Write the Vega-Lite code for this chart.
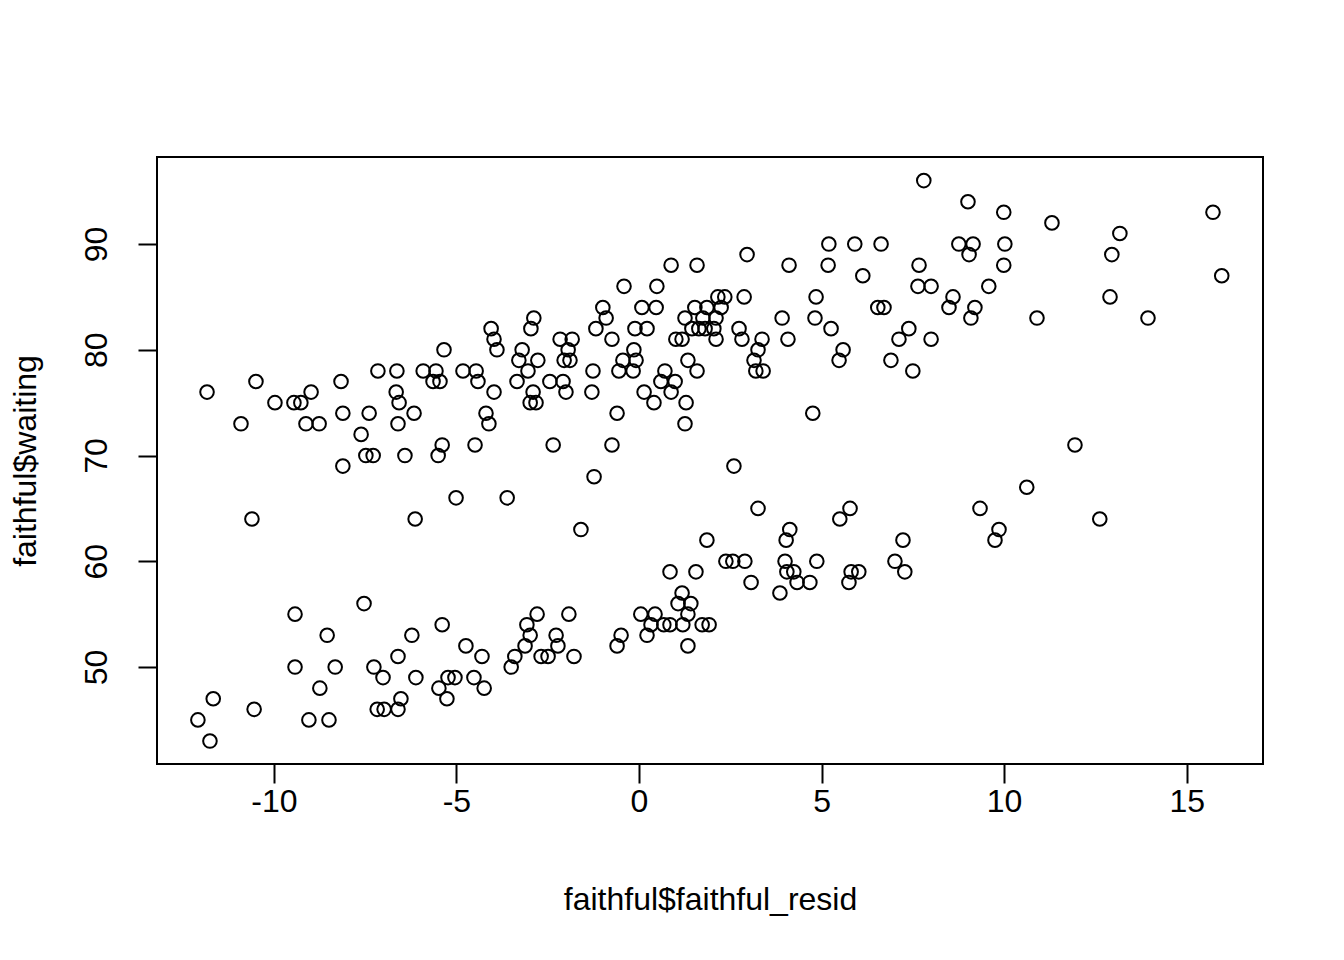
{
  "$schema": "https://vega.github.io/schema/vega-lite/v6.json",
  "width": 1106,
  "height": 607,
  "autosize": {"type": "none"},
  "padding": {"left": 157, "top": 157, "right": 81, "bottom": 196},
  "background": "white",
  "config": {
    "font": "Liberation Sans",
    "view": {"stroke": "black", "strokeWidth": 2, "fill": "white"},
    "axis": {"grid": false, "domain": false, "ticks": true, "tickColor": "black", "tickWidth": 2, "tickSize": 19, "labelColor": "black", "labelFontSize": 32, "titleFontSize": 32, "titleFontWeight": "normal", "titleColor": "black", "labelFont": "Liberation Sans", "titleFont": "Liberation Sans", "labelExpr": "toString(datum.value)"}
  },
  "data": {"values": [
    {"resid": 7.80, "waiting": 96},
    {"resid": 9.01, "waiting": 94},
    {"resid": 9.99, "waiting": 93}, {"resid": 15.72, "waiting": 93},
    {"resid": 11.31, "waiting": 92},
    {"resid": 13.17, "waiting": 91},
    {"resid": 5.20, "waiting": 90}, {"resid": 5.91, "waiting": 90}, {"resid": 6.63, "waiting": 90}, {"resid": 8.76, "waiting": 90}, {"resid": 9.15, "waiting": 90}, {"resid": 10.02, "waiting": 90},
    {"resid": 2.96, "waiting": 89}, {"resid": 9.04, "waiting": 89}, {"resid": 12.95, "waiting": 89},
    {"resid": 0.88, "waiting": 88}, {"resid": 1.59, "waiting": 88}, {"resid": 4.11, "waiting": 88}, {"resid": 5.18, "waiting": 88}, {"resid": 7.67, "waiting": 88}, {"resid": 9.99, "waiting": 88},
    {"resid": 6.13, "waiting": 87}, {"resid": 15.96, "waiting": 87},
    {"resid": -0.41, "waiting": 86}, {"resid": 0.49, "waiting": 86}, {"resid": 7.64, "waiting": 86}, {"resid": 8.00, "waiting": 86}, {"resid": 9.58, "waiting": 86},
    {"resid": 2.16, "waiting": 85}, {"resid": 2.35, "waiting": 85}, {"resid": 2.88, "waiting": 85}, {"resid": 4.85, "waiting": 85}, {"resid": 8.60, "waiting": 85}, {"resid": 12.90, "waiting": 85},
    {"resid": -0.99, "waiting": 84}, {"resid": 0.08, "waiting": 84}, {"resid": 0.47, "waiting": 84}, {"resid": 1.53, "waiting": 84}, {"resid": 1.86, "waiting": 84}, {"resid": 2.25, "waiting": 84}, {"resid": 6.54, "waiting": 84}, {"resid": 6.71, "waiting": 84}, {"resid": 8.49, "waiting": 84}, {"resid": 9.20, "waiting": 84},
    {"resid": -2.88, "waiting": 83}, {"resid": -0.90, "waiting": 83}, {"resid": 1.26, "waiting": 83}, {"resid": 1.75, "waiting": 83}, {"resid": 2.11, "waiting": 83}, {"resid": 3.92, "waiting": 83}, {"resid": 4.82, "waiting": 83}, {"resid": 9.09, "waiting": 83}, {"resid": 10.90, "waiting": 83}, {"resid": 13.94, "waiting": 83},
    {"resid": -4.05, "waiting": 82}, {"resid": -2.96, "waiting": 82}, {"resid": -1.18, "waiting": 82}, {"resid": -0.11, "waiting": 82}, {"resid": 0.22, "waiting": 82}, {"resid": 1.45, "waiting": 82}, {"resid": 1.64, "waiting": 82}, {"resid": 1.81, "waiting": 82}, {"resid": 2.05, "waiting": 82}, {"resid": 2.74, "waiting": 82}, {"resid": 5.26, "waiting": 82}, {"resid": 7.39, "waiting": 82},
    {"resid": -3.97, "waiting": 81}, {"resid": -2.16, "waiting": 81}, {"resid": -1.83, "waiting": 81}, {"resid": -0.74, "waiting": 81}, {"resid": 1.01, "waiting": 81}, {"resid": 1.18, "waiting": 81}, {"resid": 2.11, "waiting": 81}, {"resid": 2.82, "waiting": 81}, {"resid": 3.37, "waiting": 81}, {"resid": 4.08, "waiting": 81}, {"resid": 7.12, "waiting": 81}, {"resid": 8.00, "waiting": 81},
    {"resid": -5.34, "waiting": 80}, {"resid": -3.89, "waiting": 80}, {"resid": -3.20, "waiting": 80}, {"resid": -1.94, "waiting": 80}, {"resid": -0.14, "waiting": 80}, {"resid": 3.26, "waiting": 80}, {"resid": 5.59, "waiting": 80},
    {"resid": -3.29, "waiting": 79}, {"resid": -2.77, "waiting": 79}, {"resid": -2.05, "waiting": 79}, {"resid": -1.89, "waiting": 79}, {"resid": -0.44, "waiting": 79}, {"resid": -0.08, "waiting": 79}, {"resid": 1.34, "waiting": 79}, {"resid": 3.15, "waiting": 79}, {"resid": 5.48, "waiting": 79}, {"resid": 6.90, "waiting": 79},
    {"resid": -7.15, "waiting": 78}, {"resid": -6.63, "waiting": 78}, {"resid": -5.91, "waiting": 78}, {"resid": -5.56, "waiting": 78}, {"resid": -4.82, "waiting": 78}, {"resid": -4.46, "waiting": 78}, {"resid": -3.04, "waiting": 78}, {"resid": -1.26, "waiting": 78}, {"resid": -0.55, "waiting": 78}, {"resid": -0.16, "waiting": 78}, {"resid": 0.71, "waiting": 78}, {"resid": 1.59, "waiting": 78}, {"resid": 3.20, "waiting": 78}, {"resid": 3.40, "waiting": 78}, {"resid": 7.50, "waiting": 78},
    {"resid": -10.49, "waiting": 77}, {"resid": -8.16, "waiting": 77}, {"resid": -5.64, "waiting": 77}, {"resid": -5.45, "waiting": 77}, {"resid": -4.41, "waiting": 77}, {"resid": -3.34, "waiting": 77}, {"resid": -2.44, "waiting": 77}, {"resid": -2.08, "waiting": 77}, {"resid": 0.60, "waiting": 77}, {"resid": 0.99, "waiting": 77},
    {"resid": -11.83, "waiting": 76}, {"resid": -8.98, "waiting": 76}, {"resid": -6.65, "waiting": 76}, {"resid": -3.97, "waiting": 76}, {"resid": -2.90, "waiting": 76}, {"resid": -2.00, "waiting": 76}, {"resid": -1.29, "waiting": 76}, {"resid": 0.14, "waiting": 76}, {"resid": 0.88, "waiting": 76},
    {"resid": -9.97, "waiting": 75}, {"resid": -9.45, "waiting": 75}, {"resid": -9.26, "waiting": 75}, {"resid": -6.57, "waiting": 75}, {"resid": -2.98, "waiting": 75}, {"resid": -2.82, "waiting": 75}, {"resid": 0.41, "waiting": 75}, {"resid": 1.29, "waiting": 75},
    {"resid": -8.11, "waiting": 74}, {"resid": -7.39, "waiting": 74}, {"resid": -6.16, "waiting": 74}, {"resid": -4.19, "waiting": 74}, {"resid": -0.60, "waiting": 74}, {"resid": 4.76, "waiting": 74},
    {"resid": -10.90, "waiting": 73}, {"resid": -9.12, "waiting": 73}, {"resid": -8.76, "waiting": 73}, {"resid": -6.60, "waiting": 73}, {"resid": -4.11, "waiting": 73}, {"resid": 1.26, "waiting": 73},
    {"resid": -7.61, "waiting": 72},
    {"resid": -5.39, "waiting": 71}, {"resid": -4.49, "waiting": 71}, {"resid": -2.35, "waiting": 71}, {"resid": -0.74, "waiting": 71}, {"resid": 11.94, "waiting": 71},
    {"resid": -7.48, "waiting": 70}, {"resid": -7.28, "waiting": 70}, {"resid": -6.41, "waiting": 70}, {"resid": -5.50, "waiting": 70},
    {"resid": -8.11, "waiting": 69}, {"resid": 2.60, "waiting": 69},
    {"resid": -1.23, "waiting": 68},
    {"resid": 10.62, "waiting": 67},
    {"resid": -5.01, "waiting": 66}, {"resid": -3.61, "waiting": 66},
    {"resid": 3.26, "waiting": 65}, {"resid": 5.78, "waiting": 65}, {"resid": 9.34, "waiting": 65},
    {"resid": -10.60, "waiting": 64}, {"resid": -6.13, "waiting": 64}, {"resid": 5.50, "waiting": 64}, {"resid": 12.62, "waiting": 64},
    {"resid": -1.59, "waiting": 63}, {"resid": 4.13, "waiting": 63}, {"resid": 9.86, "waiting": 63},
    {"resid": 1.86, "waiting": 62}, {"resid": 4.03, "waiting": 62}, {"resid": 7.23, "waiting": 62}, {"resid": 9.75, "waiting": 62},
    {"resid": 2.38, "waiting": 60}, {"resid": 2.57, "waiting": 60}, {"resid": 2.90, "waiting": 60}, {"resid": 4.00, "waiting": 60}, {"resid": 4.87, "waiting": 60}, {"resid": 7.01, "waiting": 60},
    {"resid": 0.85, "waiting": 59}, {"resid": 1.56, "waiting": 59}, {"resid": 4.05, "waiting": 59}, {"resid": 4.24, "waiting": 59}, {"resid": 5.81, "waiting": 59}, {"resid": 6.02, "waiting": 59}, {"resid": 7.28, "waiting": 59},
    {"resid": 3.07, "waiting": 58}, {"resid": 4.33, "waiting": 58}, {"resid": 4.68, "waiting": 58}, {"resid": 5.75, "waiting": 58},
    {"resid": 1.18, "waiting": 57}, {"resid": 3.86, "waiting": 57},
    {"resid": -7.53, "waiting": 56}, {"resid": 1.07, "waiting": 56}, {"resid": 1.42, "waiting": 56},
    {"resid": -9.42, "waiting": 55}, {"resid": -2.79, "waiting": 55}, {"resid": -1.92, "waiting": 55}, {"resid": 0.05, "waiting": 55}, {"resid": 0.44, "waiting": 55}, {"resid": 1.34, "waiting": 55},
    {"resid": -5.39, "waiting": 54}, {"resid": -3.07, "waiting": 54}, {"resid": 0.33, "waiting": 54}, {"resid": 0.68, "waiting": 54}, {"resid": 0.85, "waiting": 54}, {"resid": 1.20, "waiting": 54}, {"resid": 1.73, "waiting": 54}, {"resid": 1.92, "waiting": 54},
    {"resid": -8.54, "waiting": 53}, {"resid": -6.22, "waiting": 53}, {"resid": -2.98, "waiting": 53}, {"resid": -2.27, "waiting": 53}, {"resid": -0.49, "waiting": 53}, {"resid": 0.22, "waiting": 53},
    {"resid": -4.74, "waiting": 52}, {"resid": -3.12, "waiting": 52}, {"resid": -2.22, "waiting": 52}, {"resid": -0.60, "waiting": 52}, {"resid": 1.34, "waiting": 52},
    {"resid": -6.60, "waiting": 51}, {"resid": -4.30, "waiting": 51}, {"resid": -3.40, "waiting": 51}, {"resid": -2.68, "waiting": 51}, {"resid": -2.49, "waiting": 51}, {"resid": -1.78, "waiting": 51},
    {"resid": -9.42, "waiting": 50}, {"resid": -8.32, "waiting": 50}, {"resid": -7.26, "waiting": 50}, {"resid": -3.50, "waiting": 50},
    {"resid": -7.01, "waiting": 49}, {"resid": -6.11, "waiting": 49}, {"resid": -5.23, "waiting": 49}, {"resid": -5.04, "waiting": 49}, {"resid": -4.52, "waiting": 49},
    {"resid": -8.74, "waiting": 48}, {"resid": -5.48, "waiting": 48}, {"resid": -4.24, "waiting": 48},
    {"resid": -11.66, "waiting": 47}, {"resid": -6.52, "waiting": 47}, {"resid": -5.26, "waiting": 47},
    {"resid": -10.54, "waiting": 46}, {"resid": -7.17, "waiting": 46}, {"resid": -6.98, "waiting": 46}, {"resid": -6.60, "waiting": 46},
    {"resid": -12.08, "waiting": 45}, {"resid": -9.04, "waiting": 45}, {"resid": -8.49, "waiting": 45},
    {"resid": -11.75, "waiting": 43}
  ]},
  "mark": {"type": "point", "shape": "circle", "filled": false, "stroke": "black", "strokeWidth": 2, "size": 185, "opacity": 1},
  "encoding": {
    "x": {"field": "resid", "type": "quantitative", "scale": {"domain": [-13.2, 17.09], "nice": false, "zero": false},
      "axis": {"values": [-10, -5, 0, 5, 10, 15], "title": "faithful$faithful_resid", "labelBaseline": "alphabetic", "labelPadding": 28.5, "titleBaseline": "alphabetic", "titleY": 145}},
    "y": {"field": "waiting", "type": "quantitative", "scale": {"domain": [40.83, 98.23], "nice": false, "zero": false},
      "axis": {"values": [50, 60, 70, 80, 90], "title": "faithful$waiting", "labelAngle": -90, "labelAlign": "center", "labelBaseline": "alphabetic", "labelPadding": 31.5, "titleBaseline": "alphabetic", "titleAngle": 270, "titleX": -122}}
  }
}
